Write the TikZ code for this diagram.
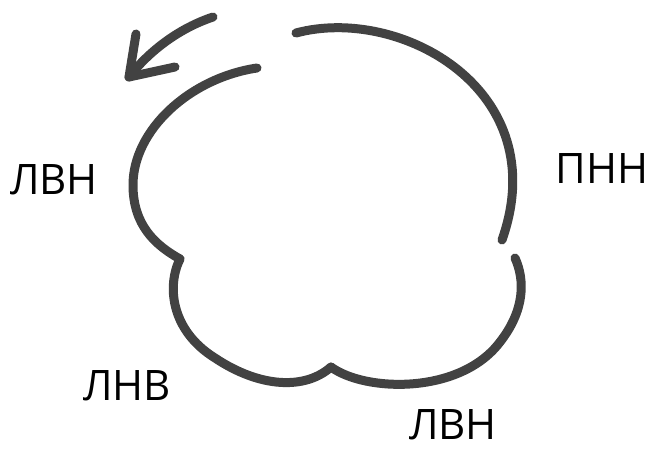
\documentclass[tikz,border=0pt]{standalone}
\usepackage{fontspec}
\setmainfont{Open Sans}
\begin{document}
\begin{tikzpicture}[x=1pt,y=-1pt,
  stroke/.style={line width=9pt,draw=black!74,line cap=round,line join=round},
  lbl/.style={font=\fontsize{42}{48}\selectfont,inner sep=0pt,text=black}]
\useasboundingbox (0,0) rectangle (654,454);
\coordinate (a1) at (296,33);
\coordinate (a2) at (502,240);
\coordinate (b1) at (257,68);
\coordinate (b2) at (133,185);
\coordinate (c1) at (180,259);
\coordinate (c2) at (215,358);
\coordinate (d1) at (331,367);
\coordinate (d2) at (500,342);
\coordinate (d3) at (515,258);
\coordinate (e1) at (213,17);
\coordinate (e2) at (129,77);
\coordinate (e3) at (136,34);
\coordinate (e4) at (175,67);
% top-right arc
\draw[stroke] (a1) .. controls (400,5) and (555,90) .. (a2);
% left arc
\draw[stroke] (b1) .. controls (190,78) and (133,130) .. (b2) .. controls (133,225) and (155,245) .. (c1);
% lower-left arc
\draw[stroke] (c1) .. controls (167,285) and (170,330) .. (c2) .. controls (260,388) and (305,390) .. (d1);
% lower-right arc
\draw[stroke] (d1) .. controls (365,392) and (460,395) .. (d2) .. controls (525,310) and (525,280) .. (d3);
% arrow
\draw[stroke] (e1) .. controls (180,28) and (150,50) .. (e2);
\draw[stroke] (e3) -- (e2) -- (e4);
% labels
\node[lbl] (l1) at (54,180) {ЛВН};
\node[lbl] (l2) at (602,169) {ПНН};
\node[lbl] (l3) at (127,386) {ЛНВ};
\node[lbl] (l4) at (453,425) {ЛВН};
\end{tikzpicture}
\end{document}
